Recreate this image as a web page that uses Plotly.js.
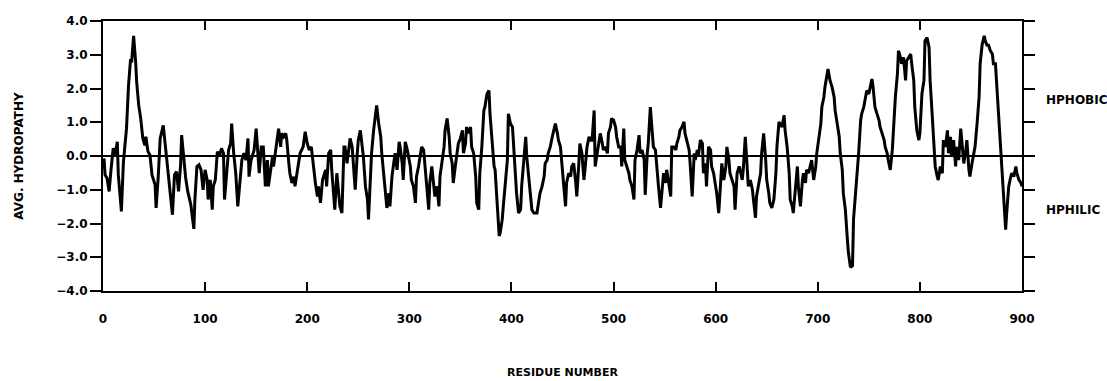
<!DOCTYPE html>
<html>
<head>
<meta charset="utf-8">
<script src="https://cdn.plot.ly/plotly-3.0.1.min.js"></script>
<style>html,body{margin:0;padding:0;background:#fff}#chart{width:1107px;height:381px}</style>
</head>
<body>
<div id="chart"></div>
<script>
// Residue positions (x)
const residue = [
1,2,4,6,8,10,12,14,15,18,
20,22,23,25,27,28,30,32,33,35,
37,39,41,42,44,46,48,51,52,54,
56,59,60,62,64,66,68,70,72,74,
76,77,79,81,83,86,87,89,90,92,
94,96,98,100,102,103,105,107,108,110,
112,114,116,118,119,121,123,125,126,128,
130,132,135,136,138,140,142,143,145,148,
150,152,153,155,157,159,161,162,164,166,
167,169,170,172,174,175,177,179,180,182,
183,185,187,188,191,193,196,198,200,202,
204,206,208,210,211,213,215,218,
219,221,223,224,226,227,229,231,232,234,
236,237,239,241,242,244,245,247,249,250,
252,254,255,257,259,260,262,263,265,267,
268,270,272,273,275,276,278,280,281,283,
285,286,288,290,291,293,294,296,298,299,
301,302,304,306,307,309,311,312,314,316,
317,319,320,322,324,325,327,329,330,332,
334,335,337,339,340,342,343,345,347,348,
350,352,353,355,356,358,360,361,363,365,
366,368,369,371,373,374,376,378,379,381,
383,384,386,388,389,391,392,394,396,397,
399,401,402,404,405,407,409,410,412,414,
415,417,419,420,422,423,425,427,428,430,
432,433,435,436,438,440,441,443,
445,446,448,450,451,453,454,456,458,459,
461,463,464,466,467,469,471,472,474,476,
477,479,481,482,484,485,487,489,490,492,
494,495,497,498,500,502,503,505,507,508,
510,511,513,515,516,518,520,521,523,525,
526,528,530,531,533,534,536,538,539,541,
543,544,546,548,549,551,552,554,556,557,
559,561,562,564,565,567,569,570,572,574,
575,577,579,580,582,583,585,587,588,590,
591,593,595,596,598,600,601,603,605,606,
608,610,611,613,614,616,618,619,621,623,
624,626,627,629,631,632,634,636,637,639,
640,642,644,645,647,649,650,652,653,655,
657,659,660,662,663,665,667,668,670,672,
673,675,676,
678,680,681,683,685,686,688,689,691,693,
694,696,698,699,701,703,704,706,707,709,
710,712,714,716,717,719,721,722,724,725,
727,729,730,732,734,735,737,738,740,742,
743,745,747,748,750,752,753,754,755,756,
758,760,761,763,765,766,768,769,771,773,
774,776,778,779,781,782,784,786,787,789,
791,792,794,795,797,799,800,802,804,805,
807,809,810,812,814,815,817,818,820,822,
823,825,827,828,830,831,833,835,836,838,
840,841,843,845,846,848,849,851,853,854,
856,858,859,861,863,864,866,867,869,871,
872,874,875,877,879,880,882,884,885,887,
889,890,892,894,895,897,899,900
];

// Average hydropathy (y)
const hydropathy = [
-0.07,-0.56,-0.66,-1.05,-0.36,0.23,0.03,0.42,-0.56,-1.64,
-0.17,0.62,0.81,2.09,2.87,2.77,3.56,2.77,2.18,1.5,
1.1,0.52,0.32,0.57,0.13,0.03,-0.56,-0.85,-1.54,-0.66,
0.52,0.91,0.62,-0.07,-0.66,-1.05,-1.74,-0.56,-0.46,-1.05,
-0.26,0.62,-0.07,-0.66,-1.05,-1.44,-1.69,-2.16,-1.29,-0.31,
-0.26,-0.41,-1.0,-0.41,-0.71,-1.29,-0.71,-1.59,-0.9,-0.71,
0.13,-0.02,0.23,0.08,-1.29,-0.51,0.18,0.37,0.96,0.08,
-0.51,-1.49,-0.31,-0.12,0.08,-0.12,0.52,-0.61,-0.12,0.18,
0.81,-0.02,-0.51,0.27,0.27,-0.9,-0.12,-0.9,-0.41,-0.02,
-0.31,0.08,0.37,0.81,0.27,0.67,0.57,0.67,0.47,-0.22,
-0.51,-0.8,-0.61,-0.9,-0.31,0.08,0.27,0.72,0.37,0.18,
0.27,-0.31,-0.8,-1.2,-0.9,-1.39,-0.71,-0.41,
-0.9,0.08,0.18,-0.41,-1.1,-1.59,-0.51,-1.29,-1.49,-1.69,
0.27,0.27,-0.22,0.27,0.52,0.27,-0.12,-1.0,0.08,0.47,
0.76,0.27,-0.02,-0.9,-1.29,-1.88,-0.8,0.08,0.76,1.25,
1.5,0.96,0.57,0.08,-0.51,-0.9,-1.54,-1.1,-1.49,-0.61,
-0.12,0.08,-0.41,0.42,0.27,-0.22,-0.71,0.42,0.18,-0.02,
-0.31,-0.71,-0.9,-1.39,-0.61,-0.31,0.08,0.27,0.18,-0.51,
-0.9,-1.59,-0.8,-0.31,-0.9,-1.2,-0.9,-1.49,-0.61,-0.22,
0.27,0.76,1.11,0.57,0.08,-0.22,-0.8,-0.31,0.08,0.37,
0.52,0.76,0.08,0.37,0.86,0.67,0.86,0.27,0.08,-0.61,
-1.39,-1.59,-0.51,0.27,1.35,1.45,1.84,1.94,1.25,0.47,
-0.31,-0.41,-1.39,-2.37,-2.27,-1.88,-1.49,-0.9,-0.12,1.25,
0.96,0.86,0.37,-0.51,-1.1,-1.69,-1.59,-0.9,-0.02,0.57,
-0.02,-0.71,-1.29,-1.59,-1.69,-1.69,-1.69,-1.29,-1.1,-0.9,
-0.61,-0.22,-0.12,0.08,0.27,0.57,0.72,0.96,
0.67,0.47,0.27,-0.31,-0.8,-1.49,-0.8,-0.51,-0.61,-0.31,
-0.22,-0.8,-1.2,-0.22,0.37,0.08,-0.71,-0.41,0.27,0.57,
0.47,0.47,1.35,-0.31,0.08,0.37,0.67,0.37,0.18,0.27,
0.08,0.67,0.86,1.11,1.06,0.86,0.57,0.27,0.27,-0.31,
0.81,-0.12,-0.31,-0.51,-0.71,-0.9,-1.29,-0.12,0.18,0.62,
0.08,0.18,-0.12,-1.15,0.08,0.37,1.45,0.57,0.27,0.18,
-0.41,-0.9,-1.54,-0.71,-0.51,-0.8,-0.41,-0.8,-1.2,0.27,
0.27,0.18,0.37,0.57,0.76,0.86,1.01,0.67,0.37,0.18,
-0.22,-1.2,0.08,-0.12,0.18,-0.02,0.47,0.37,-0.51,-0.22,
-0.9,0.27,0.18,-0.31,-0.51,-0.9,-1.1,-1.69,-0.71,-0.22,
-0.71,-0.31,0.27,-0.12,-0.51,-0.71,-0.9,-1.59,-0.51,-0.31,
-0.41,-0.71,-0.41,0.57,-0.31,-0.9,-0.71,-1.0,-1.29,-1.83,
-1.2,-0.9,-0.51,0.08,0.67,-0.12,-0.71,-1.1,-1.39,-1.54,
-1.29,-0.51,0.27,1.01,0.96,0.86,1.21,0.76,0.27,-0.51,
-1.29,-1.49,-1.69,
-0.9,-0.31,-0.9,-1.49,-0.71,-0.51,-0.8,-0.41,-0.51,-0.22,
-0.12,-0.71,-0.31,0.08,0.57,0.96,1.45,1.75,2.04,2.43,
2.58,2.24,2.04,1.75,1.35,0.96,0.57,0.08,-0.41,-1.1,
-1.59,-2.47,-2.86,-3.3,-3.25,-1.88,-1.1,-0.9,0.08,1.06,
1.25,1.45,1.84,1.94,1.84,2.09,2.28,2.09,1.75,1.45,
1.25,1.06,0.86,0.67,0.47,0.27,0.08,-0.12,-0.41,0.18,
0.76,1.75,2.43,3.12,2.92,2.73,2.92,2.24,2.82,2.92,
3.02,2.73,2.24,1.45,0.76,0.47,0.67,1.84,2.24,3.41,
3.51,3.22,2.24,1.25,0.27,-0.31,-0.61,-0.71,-0.31,-0.51,
0.47,0.27,0.76,0.08,0.57,-0.02,0.47,-0.31,0.27,-0.12,
0.81,0.37,-0.22,0.18,0.47,-0.41,-0.61,-0.22,0.08,0.27,
0.96,1.75,2.73,3.31,3.56,3.41,3.26,3.31,3.12,3.02,
2.73,2.73,2.24,1.25,0.27,-0.51,-1.29,-2.18,-1.69,-0.9,
-0.61,-0.51,-0.61,-0.31,-0.51,-0.71,-0.8,-0.9
];

const xTickVals = [0, 100, 200, 300, 400, 500, 600, 700, 800, 900];
const xTickText = ['0', '100', '200', '300', '400', '500', '600', '700', '800', '900'];
const yTickVals = [-4, -3, -2, -1, 0, 1, 2, 3, 4];
const yTickText = ['\u22124.0', '\u22123.0', '\u22122.0', '\u22121.0', '0.0', '1.0', '2.0', '3.0', '4.0'];
const xTitle = 'RESIDUE NUMBER';
const yTitle = 'AVG. HYDROPATHY';
const sideLabels = ['HPHOBIC', 'HPHILIC'];
const sideLabelY = [1.65, -1.6];

const FONT = 'DejaVu Sans, Liberation Sans, Arial, sans-serif';
const boldFont = (s) => ({family: FONT, size: s, color: '#000', weight: 'bold'});

const trace = {
  x: residue, y: hydropathy, type: 'scatter', mode: 'lines',
  line: {color: '#000', width: 3}, hoverinfo: 'skip'
};

const layout = {
  width: 1107, height: 381,
  margin: {l: 103, r: 85, t: 21, b: 90, pad: 0},
  paper_bgcolor: '#fff', plot_bgcolor: '#fff',
  showlegend: false,
  font: boldFont(12),
  xaxis: {
    range: [0, 900], tickmode: 'array', tickvals: xTickVals, ticktext: xTickText,
    ticks: 'inside', ticklen: 9, tickwidth: 2, tickcolor: '#000',
    showline: true, linecolor: '#000', linewidth: 2, mirror: 'ticks',
    showgrid: false, zeroline: false, tickfont: boldFont(12),
    ticklabelstandoff: 16,
    title: {text: xTitle, font: boldFont(11), standoff: 43}
  },
  yaxis: {
    range: [-4, 4], tickmode: 'array', tickvals: yTickVals, ticktext: yTickText,
    ticks: 'outside', ticklen: 11, tickwidth: 2, tickcolor: '#000',
    showline: true, linecolor: '#000', linewidth: 2, mirror: 'ticks',
    showgrid: false, zeroline: true, zerolinecolor: '#000', zerolinewidth: 2.5,
    tickfont: boldFont(12),
    title: {text: yTitle, font: boldFont(12), standoff: 30}
  },
  annotations: sideLabels.map((t, i) => ({
    text: t, xref: 'paper', yref: 'y', x: 1, y: sideLabelY[i],
    xanchor: 'left', yanchor: 'middle', xshift: 22, showarrow: false,
    font: boldFont(12)
  }))
};

Plotly.newPlot('chart', [trace], layout, {displayModeBar: false, staticPlot: true});
</script>
</body>
</html>
